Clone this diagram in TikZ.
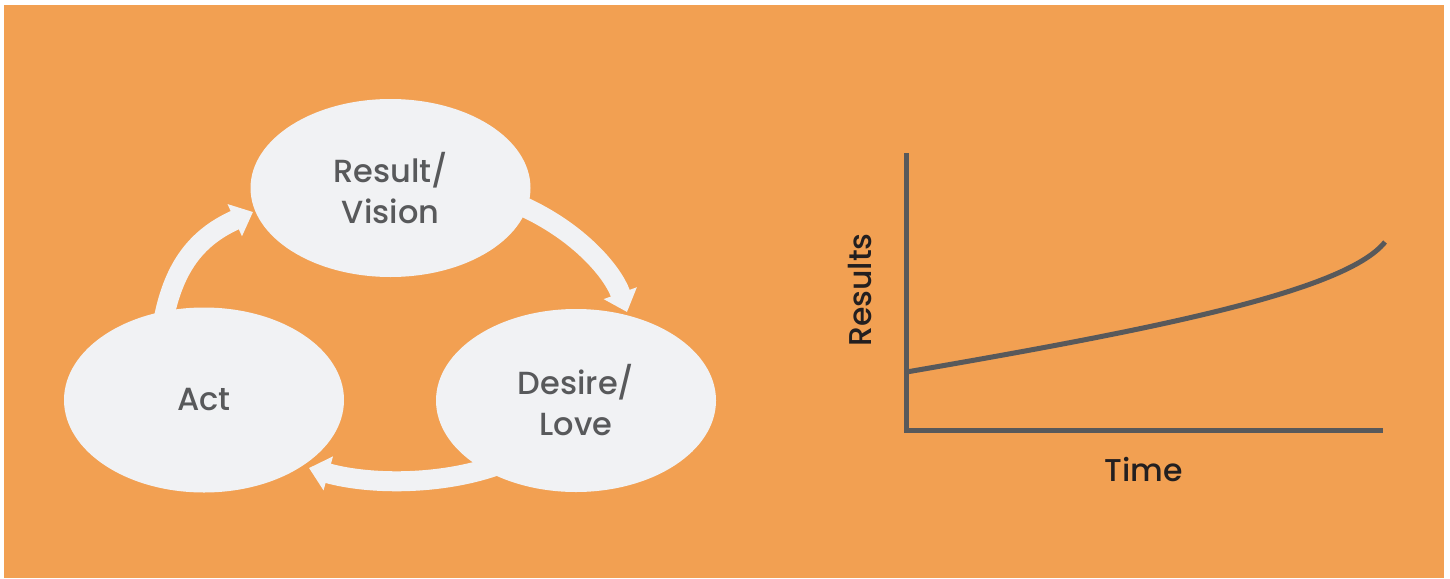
\documentclass[tikz,border=0pt]{standalone}
\usepackage{fontspec}
\setmainfont{Poppins}
\newfontfamily\medfont{Poppins Medium}
\usetikzlibrary{shapes.geometric,arrows.meta,calc}
\definecolor{bgorange}{HTML}{F2A052}
\definecolor{bubble}{HTML}{F1F2F4}
\definecolor{inktext}{HTML}{58595B}
\definecolor{axisgray}{HTML}{58595B}
\definecolor{darkink}{HTML}{231F20}
\begin{document}
\begin{tikzpicture}[x=1pt,y=-1pt,
  bubblenode/.style={ellipse,fill=bubble,inner sep=0pt,minimum width=280pt,
    text=inktext,font=\medfont\fontsize{32}{41}\selectfont,align=center},
  flow/.style={draw=bubble,line width=20pt,
    -{Triangle[width=34pt,length=20pt]}},
  axisline/.style={draw=axisgray,line width=5pt},
  axislabel/.style={text=darkink,font=\medfont\fontsize{31.5}{36}\selectfont,inner sep=0pt}]
\useasboundingbox (0,0) rectangle (1450,578);
\fill[white] (0,0) rectangle (1450,578);
\fill[bgorange] (4,5) rectangle (1444,578);
% arrows (behind bubbles)
\coordinate (a1s) at (161,335);
\coordinate (a1e) at (253,212);
\coordinate (a2s) at (515,203);
\coordinate (a2e) at (627,312);
\coordinate (a3s) at (495,466);
\coordinate (a3e) at (309,468);
\draw[flow] (a1s) .. controls (170,270) and (195,238) .. (a1e);
\draw[flow] (a2s) .. controls (575,228) and (612,270) .. (a2e);
\draw[flow] (a3s) .. controls (440,485) and (370,485) .. (a3e);
% bubbles
\node[bubblenode,minimum height=178pt] (rv) at (390.5,188) {Result/\\Vision};
\node[bubblenode,minimum height=185pt] (act) at (204,400) {Act};
\node[bubblenode,minimum height=183pt] (dl) at (576,400.5) {Desire/\\Love};
% chart
\coordinate (ytop) at (906.5,153);
\coordinate (orig) at (906.5,430.5);
\coordinate (xend) at (1383,430.5);
\coordinate (cs) at (906.5,372);
\coordinate (ce) at (1385,242);
\draw[axisline] (ytop) -- (orig) -- (xend);
\draw[axisline] (cs) .. controls (1150,330) and (1345,292) .. (ce);
\node[axislabel,rotate=90] (ylab) at (860,290) {Results};
\node[axislabel] (xlab) at (1144,470) {Time};
\end{tikzpicture}
\end{document}
